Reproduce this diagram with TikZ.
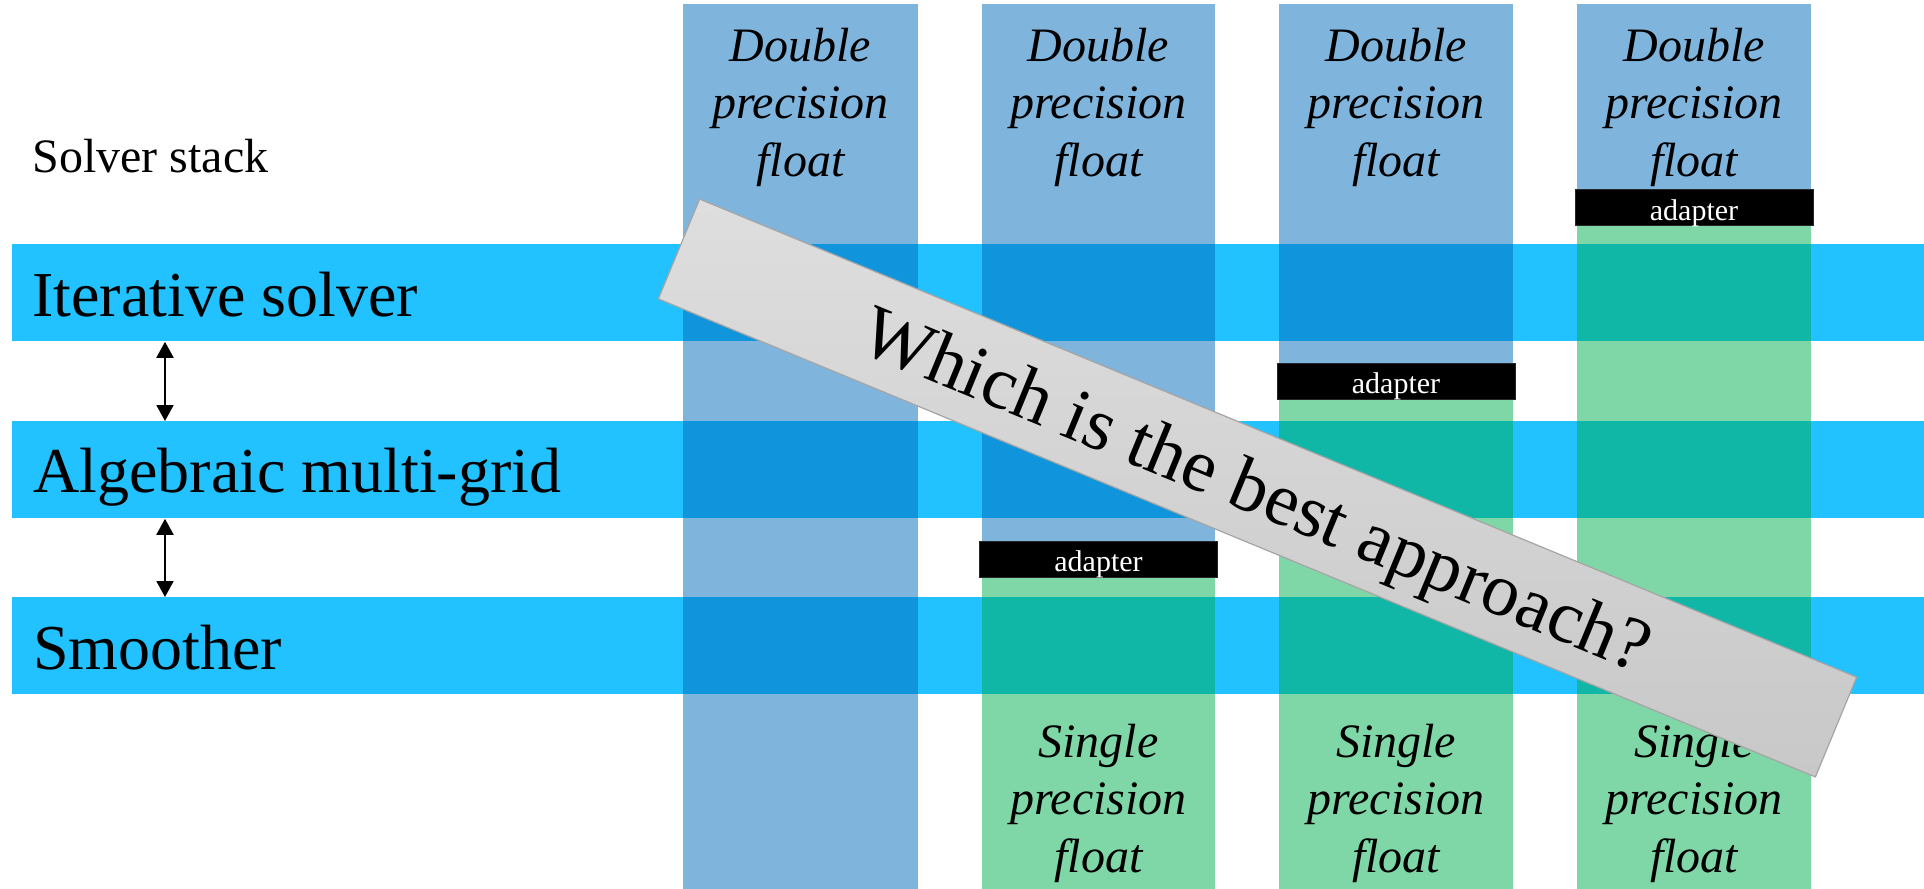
\documentclass[tikz,border=0pt]{standalone}
\usepackage{fontspec}
\setmainfont{Liberation Serif}
\usetikzlibrary{arrows.meta}

\definecolor{bandblue}{RGB}{34,193,255}
\definecolor{dpblue}{RGB}{0,107,187}
\definecolor{spgreen}{RGB}{0,175,81}
\definecolor{bannertop}{RGB}{222,222,222}
\definecolor{bannerbot}{RGB}{200,200,200}
\definecolor{bannerrim}{RGB}{165,165,165}

\tikzset{
  band/.style={fill=bandblue, inner sep=0pt, minimum width=956pt, minimum height=48.5pt, anchor=north west},
  bandlabel/.style={inner sep=0pt, anchor=base west, font=\fontsize{32pt}{38pt}\selectfont},
  dpcol/.style={fill=dpblue, fill opacity=0.5},
  spcol/.style={fill=spgreen, fill opacity=0.5},
  collabel/.style={inner sep=0pt, align=center, font=\fontsize{24pt}{28.75pt}\selectfont\itshape},
  adapter/.style={fill=black, draw=black!85, line width=0.4pt, text=white, inner sep=0pt,
    minimum width=119pt, minimum height=18pt, text height=12.5pt, text depth=0pt,
    font=\fontsize{15pt}{18pt}\selectfont},
  updown/.style={{Triangle[width=8.5pt,length=8pt]}-{Triangle[width=8.5pt,length=8pt]}, line width=1pt},
  banner/.style={draw=bannerrim, line width=0.6pt, top color=bannertop, bottom color=bannerbot,
    inner sep=0pt, minimum width=626pt, minimum height=54pt, text depth=0pt,
    rotate=-22.45, font=\fontsize{37.5pt}{44pt}\selectfont}
}

\begin{document}
\begin{tikzpicture}[x=0.5pt, y=-0.5pt]
    \useasboundingbox (0,0) rectangle (1924,889);
    % layers of the stack
    \node[band] (iter) at (12,244) {};
    \node[band] (amg) at (12,421) {};
    \node[band] (smooth) at (12,597) {};
    \node[inner sep=0pt, anchor=base west, font=\fontsize{24pt}{28pt}\selectfont] (stack) at (32,172) {Solver stack};
    \node[bandlabel] (iterlabel) at (32,316) {Iterative solver};
    \node[bandlabel] (amglabel) at (33,492) {Algebraic multi-grid};
    \node[bandlabel] (smoothlabel) at (33,669) {Smoother};
    \draw[updown] ([xshift=76.5pt]iter.south west) -- ([xshift=76.5pt]amg.north west);
    \draw[updown] ([xshift=76.5pt]amg.south west) -- ([xshift=76.5pt]smooth.north west);
    % precision columns
    \fill[dpcol] (683,4) rectangle (918,889);
    \fill[dpcol] (982,4) rectangle (1215,559);
    \fill[spcol] (982,559) rectangle (1215,889);
    \fill[dpcol] (1279,4) rectangle (1513,381);
    \fill[spcol] (1279,381) rectangle (1513,889);
    \fill[dpcol] (1577,4) rectangle (1811,207);
    \fill[spcol] (1577,207) rectangle (1811,889);
    \node[collabel] (dp1) at (800.5,107) {Double\\precision\\float};
    \node[collabel] (dp2) at (1098.5,107) {Double\\precision\\float};
    \node[collabel] (dp3) at (1396,107) {Double\\precision\\float};
    \node[collabel] (dp4) at (1694,107) {Double\\precision\\float};
    \node[collabel] (sp2) at (1098.5,803) {Single\\precision\\float};
    \node[collabel] (sp3) at (1396,803) {Single\\precision\\float};
    \node[collabel] (sp4) at (1694,803) {Single\\precision\\float};
    \node[adapter] (adapt2) at (1098.5,559) {adapter};
    \node[adapter] (adapt3) at (1396,381) {adapter};
    \node[adapter] (adapt4) at (1694,207.5) {adapter};
    % the question
    \node[banner] (question) at (1257.5,488) {Which is the best approach?};
\end{tikzpicture}
\end{document}
